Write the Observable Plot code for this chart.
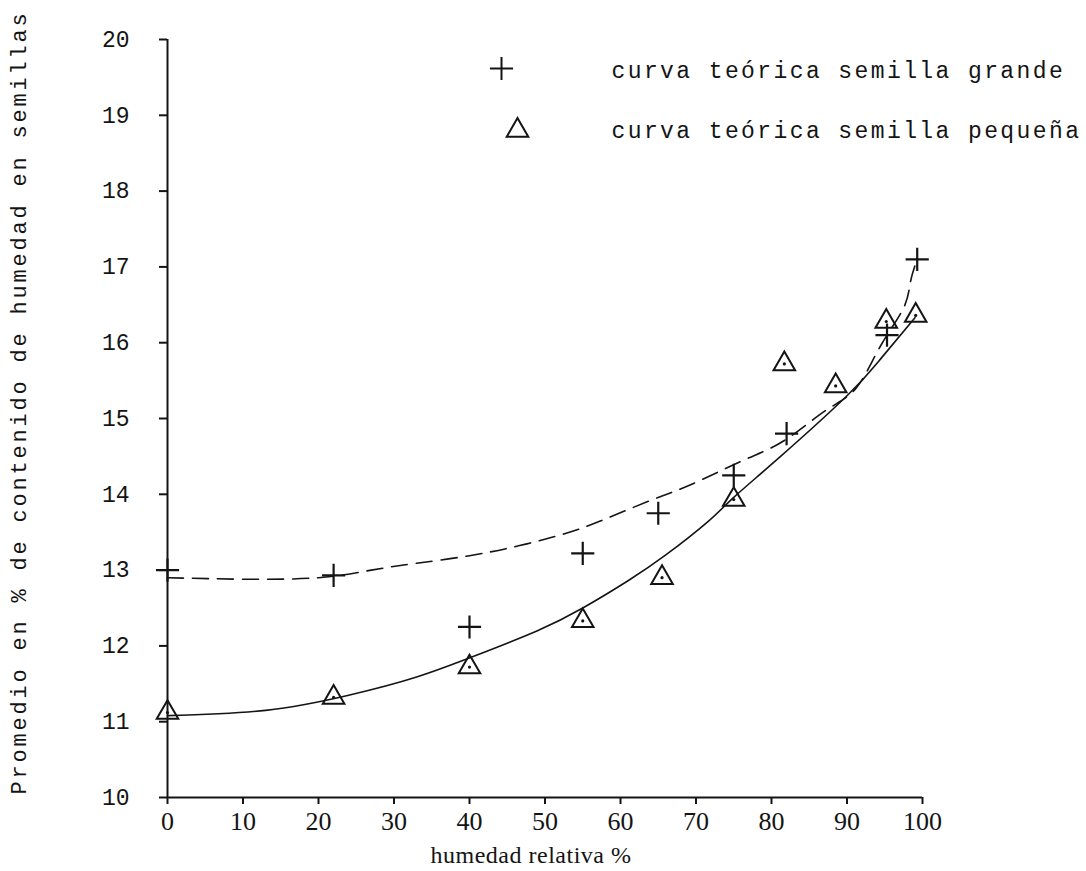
<!DOCTYPE html>
<html><head><meta charset="utf-8">
<script src="https://cdn.jsdelivr.net/npm/d3@7"></script>
<script src="https://cdn.jsdelivr.net/npm/@observablehq/plot@0.6"></script>
<style>
body{margin:0;background:#fff}
#chart svg{display:block}
</style>
</head><body><div id="chart"></div>
<script>
// ---- data ----
const xTicks = [0, 10, 20, 30, 40, 50, 60, 70, 80, 90, 100];
const yTicks = [10, 11, 12, 13, 14, 15, 16, 17, 18, 19, 20];

// measured points, large seed (+)
const grandeX = [0, 22, 40, 55, 65, 75, 82, 95.3, 99.3];
const grandeY = [13.0, 12.93, 12.25, 13.22, 13.75, 14.25, 14.8, 16.1, 17.1];

// measured points, small seed (triangles)
const pequenaX = [0, 22, 40, 55, 65.5, 75, 81.7, 88.5, 95.2, 99.1];
const pequenaY = [11.12, 11.32, 11.72, 12.33, 12.9, 13.93, 15.72, 15.43, 16.28, 16.36];

// theoretical curve, large seed (dashed)
const curveGrandeX = [0, 10, 20, 27, 33, 40, 46.5, 52.6, 57.4, 64, 69.6, 76.3, 81.7, 87.1, 91.2, 94.4, 97.5, 98.4, 99.3];
const curveGrandeY = [12.9, 12.88, 12.9, 13.0, 13.09, 13.19, 13.32, 13.48, 13.65, 13.92, 14.14, 14.45, 14.71, 15.1, 15.4, 15.95, 16.46, 16.8, 17.1];

// theoretical curve, small seed (solid)
const curvePequenaX = [0, 13, 24, 33, 41, 49, 55, 61, 66, 71.7, 75, 81.2, 90, 94.4, 99];
const curvePequenaY = [11.08, 11.15, 11.35, 11.59, 11.88, 12.2, 12.5, 12.86, 13.2, 13.65, 13.96, 14.5, 15.3, 15.78, 16.33];

const legendLabels = ["curva teórica semilla grande", "curva teórica semilla pequeña"];
const xLabel = "humedad relativa %";
const yLabel = "Promedio en % de contenido de humedad en semillas";

// ---- build tables ----
const zip = (xs, ys) => xs.map((x, i) => ({x, y: ys[i]}));
const grande = zip(grandeX, grandeY);
const pequena = zip(pequenaX, pequenaY);
const curveGrande = zip(curveGrandeX, curveGrandeY);
const curvePequena = zip(curvePequenaX, curvePequenaY);

const ink = "#141414";
const mono = "Liberation Mono";
const serif = "Liberation Serif";

const chart = Plot.plot({
  width: 1086,
  height: 871,
  marginLeft: 167,
  marginRight: 164,
  marginTop: 39,
  marginBottom: 74,
  style: {background: "#fff", color: ink},
  x: {domain: [0, 100]},
  y: {domain: [10, 20]},
  marks: [
    Plot.ruleX([0], {y1: 10, y2: 20, stroke: ink, strokeWidth: 2}),
    Plot.ruleY([10], {x1: 0, x2: 100, stroke: ink, strokeWidth: 2}),
    Plot.axisY(yTicks, {tickSize: 8, tickPadding: 30, tickFormat: d => String(d), fontFamily: mono, fontSize: 23, label: null, strokeWidth: 2, stroke: ink}),
    Plot.axisX(xTicks, {tickSize: 7, tickPadding: 7, tickFormat: d => String(d), fontFamily: serif, fontSize: 26, label: null, strokeWidth: 2, stroke: ink}),
    Plot.line(curveGrande, {x: "x", y: "y", curve: "natural", stroke: ink, strokeWidth: 1.6, strokeDasharray: "16,9"}),
    Plot.line(curvePequena, {x: "x", y: "y", curve: "natural", stroke: ink, strokeWidth: 1.6}),
    Plot.dot(grande, {x: "x", y: "y", symbol: "plus", r: 7.5, stroke: ink, strokeWidth: 2.2}),
    Plot.dot(pequena, {x: "x", y: "y", symbol: "triangle", r: 8, stroke: ink, strokeWidth: 2, fill: "none"}),
    Plot.dot(pequena, {x: "x", y: "y", r: 1.6, fill: ink, stroke: null}),
    // legend
    Plot.dot([0], {frameAnchor: "top-left", dx: 334, dy: 29, symbol: "plus", r: 7.5, stroke: ink, strokeWidth: 2}),
    Plot.dot([0], {frameAnchor: "top-left", dx: 350, dy: 91, symbol: "triangle", r: 8, stroke: ink, strokeWidth: 2, fill: "none"}),
    Plot.text([legendLabels[0]], {frameAnchor: "top-left", dx: 444, dy: 31, text: d => d, textAnchor: "start", lineAnchor: "middle", fontFamily: mono, fontSize: 23, fill: ink}),
    Plot.text([legendLabels[1]], {frameAnchor: "top-left", dx: 444, dy: 91, text: d => d, textAnchor: "start", lineAnchor: "middle", fontFamily: mono, fontSize: 23, fill: ink}),
    // axis titles
    Plot.text([yLabel], {frameAnchor: "left", dx: -149, dy: -16, rotate: -90, text: d => d, textAnchor: "middle", lineAnchor: "middle", fontFamily: mono, fontSize: 22, fill: ink}),
    Plot.text([xLabel], {frameAnchor: "bottom", dx: -14, dy: 58, text: d => d, textAnchor: "middle", lineAnchor: "middle", fontFamily: serif, fontSize: 24, fill: ink})
  ]
});

// typewriter-like spacing for legend and y title
d3.select(chart).selectAll("text").each(function() {
  const t = this.textContent;
  if (legendLabels.includes(t)) d3.select(this).style("letter-spacing", "2.4px");
  if (t === yLabel) d3.select(this).style("letter-spacing", "2.8px");
  if (t === xLabel) d3.select(this).style("letter-spacing", "0.5px");
});

document.getElementById("chart").append(chart);
</script>
</body></html>
